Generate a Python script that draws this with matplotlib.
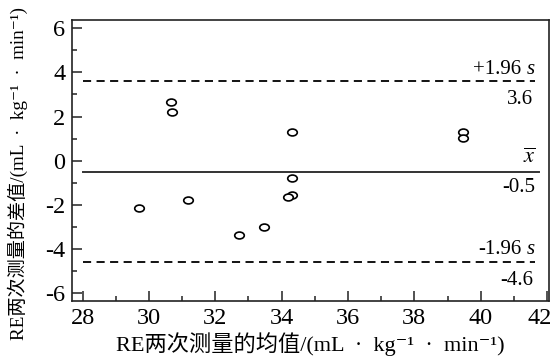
import matplotlib
matplotlib.use("Agg")
import matplotlib.pyplot as plt
from matplotlib.markers import MarkerStyle
from matplotlib.transforms import Affine2D, ScaledTranslation
from matplotlib.ticker import MultipleLocator

# data
mean_vals = [30.65, 30.70, 34.32, 34.30, 34.30, 34.20, 31.17, 29.70, 33.48, 32.72, 39.48, 39.48]
diff_vals = [2.68, 2.21, 1.29, -0.79, -1.55, -1.65, -1.79, -2.15, -3.00, -3.40, 1.29, 1.01]
bias = -0.5
upper = 3.6
lower = -4.6
xticks = [28, 30, 32, 34, 36, 38, 40, 42]
yticks = [-6, -4, -2, 0, 2, 4, 6]

fam = ['Liberation Serif', 'Noto Sans CJK SC', 'DejaVu Serif']
plt.rcParams['font.family'] = fam
plt.rcParams['axes.unicode_minus'] = False

fig = plt.figure(figsize=(5.52, 3.58), dpi=100)
ax = fig.add_axes([0.131, 0.159, 0.8636, 0.785])

ink = '#222222'
mk = MarkerStyle('o', transform=Affine2D().scale(1.25, 0.9))
ax.plot(mean_vals, diff_vals, linestyle='none', marker=mk, markersize=5.5,
        markerfacecolor='white', markeredgecolor='black', markeredgewidth=1.2)

x0, x1 = 28, 41.65
ax.plot([x0, x1], [upper, upper], color='black', lw=1.3, ls=(0, (4.5, 3)))
ax.plot([x0, x1], [lower, lower], color='black', lw=1.3, ls=(0, (4.5, 3)))
ax.plot([x0, 41.75], [bias, bias], color='#333333', lw=1.4)

fs = 15
for yv, s in [(upper, '+1.96'), (lower, '-1.96')]:
    ax.text(41.64, yv + 0.12, 's', fontsize=fs, ha='right', va='bottom', style='italic')
    ax.text(41.22, yv + 0.12, s, fontsize=fs, ha='right', va='bottom')
ax.text(41.58, upper - 0.4, f'{upper}', fontsize=fs, ha='right', va='top')
ax.text(41.58, lower - 0.4, f'{lower}', fontsize=fs, ha='right', va='top')
ax.text(41.66, bias + 0.15, r'$\overline{x}$', fontsize=fs + 1, ha='right', va='bottom',
        math_fontfamily='stix')
ax.text(41.64, bias - 0.3, f'{bias}', fontsize=fs, ha='right', va='top')

ax.set_xlim(27.69, 42.06)
ax.set_ylim(-6.38, 6.38)
ax.set_xticks(xticks)
ax.set_yticks(yticks)
ax.xaxis.set_minor_locator(MultipleLocator(1))
ax.yaxis.set_minor_locator(MultipleLocator(1))
ax.tick_params(which='both', direction='in', top=False, right=False, color=ink,
               labelsize=17.5, width=1.1)
ax.tick_params(which='major', length=7, pad=5)
ax.tick_params(which='minor', length=3.5)
for sp in ax.spines.values():
    sp.set_color(ink)
    sp.set_linewidth(1.2)

fig.canvas.draw()
for lab in ax.get_xticklabels() + ax.get_yticklabels():
    lab.set_family('Liberation Serif')
lab42 = ax.get_xticklabels()[-1]
lab42.set_transform(lab42.get_transform() + ScaledTranslation(-7 / 100, 0, fig.dpi_scale_trans))

ax.set_xlabel('RE两次测量的均值/(mL  ·  kg⁻¹  ·  min⁻¹)', fontsize=16, labelpad=2)
ax.set_ylabel('RE两次测量的差值/(mL  ·  kg⁻¹  ·  min⁻¹)', fontsize=13.8)
ax.yaxis.set_label_coords(-0.092, 0.455)

fig.savefig('out.png', dpi=100)
